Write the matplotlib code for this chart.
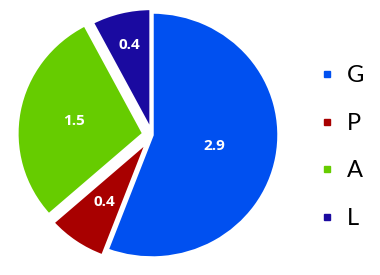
import matplotlib
matplotlib.use("Agg")
import matplotlib.pyplot as plt
from matplotlib.lines import Line2D
import numpy as np

categories = ["G", "P", "A", "L"]
values = [2.9, 0.4, 1.5, 0.4]
value_labels = ["2.9", "0.4", "1.5", "0.4"]
colors = ["#0050F0", "#A80000", "#66CC00", "#1A0AA0"]

fig = plt.figure(figsize=(3.8, 2.75), dpi=100)
RX, RY = 127, 123
cx, cy = 152, 135
ax = fig.add_axes([(cx - RX) / 380, (275 - cy - RY) / 275, 2 * RX / 380, 2 * RY / 275])
wedges, _ = ax.pie(values, colors=colors, startangle=90, counterclock=False,
                   explode=[0, 0.06, 0.065, 0.03],
                   wedgeprops=dict(edgecolor="white", linewidth=2.5))
ax.set_xlim(-1, 1)
ax.set_ylim(-1, 1)
ax.set_aspect("auto")
ax.axis("off")
for w in wedges:
    w.set_clip_on(False)

dists = [0.5, 0.6, 0.56, 0.72]
for w, lab, d in zip(wedges, value_labels, dists):
    ang = np.deg2rad((w.theta1 + w.theta2) / 2)
    x0, y0 = w.center
    ax.text(x0 + d * np.cos(ang), y0 + d * np.sin(ang), lab, color="white",
            ha="center", va="center", fontsize=11, fontweight="bold",
            family="Open Sans")

handles = [Line2D([], [], marker="s", linestyle="none", markersize=5,
                  markerfacecolor=c, markeredgecolor=c) for c in colors]
fig.legend(handles, categories, loc="center left", bbox_to_anchor=(294 / 380, 0.465),
           frameon=False, prop=dict(family="Lato", size=17),
           labelspacing=1.12, handletextpad=0.35, handlelength=1.0, borderpad=0.4)

fig.savefig("out.png", dpi=100)
